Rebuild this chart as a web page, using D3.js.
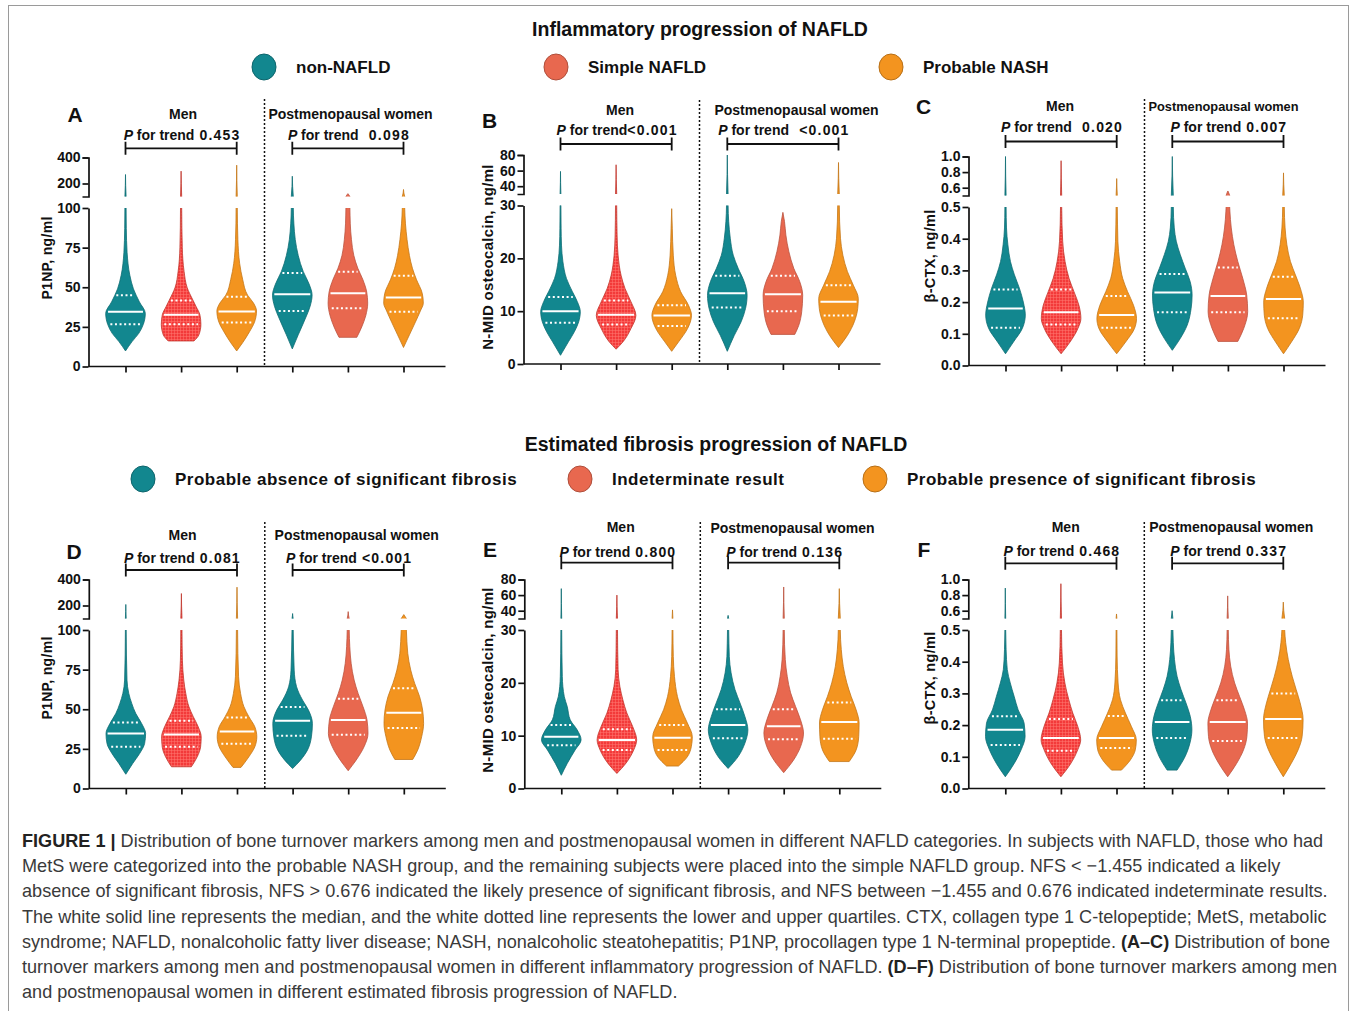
<!DOCTYPE html>
<html>
<head>
<meta charset="utf-8">
<title>Figure 1</title>
<script src="https://cdn.jsdelivr.net/npm/d3@7/dist/d3.min.js"></script>
<style>
	body{margin:0;background:#ffffff;}
	#fig1 text{font-family:"Liberation Sans",Arial,Helvetica,sans-serif;fill:#111111;}
</style>
</head>
<body>
<svg id="fig1" width="1357" height="1011"></svg>
<script>
//values
var groups = ["Men", "Postmenopausal women"];
var inflamCats = ["non-NAFLD", "Simple NAFLD", "Probable NASH"];
var fibroCats = ["Probable absence of significant fibrosis", "Indeterminate result", "Probable presence of significant fibrosis"];
var sectionTitles = ["Inflammatory progression of NAFLD", "Estimated fibrosis progression of NAFLD"];
var panelIds = ["A", "B", "C", "D", "E", "F"];
var yTitles = ["P1NP, ng/ml", "N-MID osteocalcin, ng/ml", "\u03b2-CTX, ng/ml", "P1NP, ng/ml", "N-MID osteocalcin, ng/ml", "\u03b2-CTX, ng/ml"];
var panelMarker = ["p1np", "nmid", "ctx", "p1np", "nmid", "ctx"];

//broken y axis: ticks below and above the break (last lower tick is the break)
var lowerTicks = {p1np: [0, 25, 50, 75, 100], nmid: [0, 10, 20, 30], ctx: [0, 0.1, 0.2, 0.3, 0.4, 0.5]};
var upperTicks = {p1np: [200, 400], nmid: [40, 60, 80], ctx: [0.6, 0.8, 1.0]};

//p for trend, [men, women]
var trendP = [[" 0.453", "  0.098"], ["<0.001", "  <0.001"], ["  0.020", " 0.007"],
	[" 0.081", " <0.001"], [" 0.800", " 0.136"], [" 0.468", " 0.337"]];

//[Q1, median, Q3] per violin: men cat1..3, women cat1..3
var quartA = [[26.6, 34.5, 45], [26.6, 32.6, 41.6], [27.8, 34.7, 44], [35, 45.6, 59], [36.8, 46.2, 59.8], [34.5, 43.5, 57.3]];
var quartB = [[7.8, 10.0, 12.7], [7.5, 9.3, 12.0], [7.2, 9.2, 11.1], [10.7, 13.4, 16.7], [10.0, 13.2, 16.7], [9.2, 11.8, 14.9]];
var quartC = [[0.119, 0.18, 0.24], [0.129, 0.168, 0.24], [0.119, 0.159, 0.219], [0.168, 0.23, 0.289], [0.168, 0.219, 0.309], [0.149, 0.21, 0.28]];
var quartD = [[26.3, 34.7, 41.7], [26.3, 34.1, 42.7], [28.2, 36, 44.8], [33.3, 42.7, 51.4], [33.9, 43.2, 56.6], [38.1, 47.8, 63.2]];
var quartE = [[8.2, 9.8, 12.0], [7.3, 9.2, 11.2], [7.3, 9.6, 12.0], [9.5, 12.0, 15.0], [9.3, 11.8, 15.0], [9.4, 12.6, 16.3]];
var quartF = [[0.137, 0.185, 0.228], [0.119, 0.159, 0.219], [0.128, 0.159, 0.229], [0.159, 0.21, 0.278], [0.15, 0.21, 0.278], [0.159, 0.219, 0.30]];

//violin outlines: [value, relative half width], bottom to top
var shapeA = [
	[[9.8,0],[15.7,0.33],[20.9,0.67],[26.6,0.9],[33.5,1],[40.8,0.7],[49,0.4],[57.5,0.22],[72,0.08],[87,0.04],[100,0.03],[269,0]],
	[[16.1,0.65],[20,0.9],[26.6,1],[32.6,0.95],[38,0.75],[41.8,0.6],[50,0.3],[60,0.15],[75,0.06],[100,0.03],[295,0]],
	[[9.8,0],[15,0.3],[22,0.65],[28,0.9],[35,1],[40,0.85],[45,0.55],[55,0.3],[65,0.15],[80,0.06],[100,0.03],[341,0]],
	[[11.1,0],[20,0.3],[30,0.65],[38,0.9],[45,1],[52,0.85],[60,0.55],[70,0.3],[80,0.15],[90,0.08],[100,0.05],[256,0]],
	[[18.4,0.45],[25,0.7],[32,0.9],[40,1],[47,0.95],[55,0.75],[62,0.5],[70,0.3],[80,0.18],[90,0.12],[100,0.1],[122,0]],
	[[12,0],[20,0.3],[28,0.6],[35,0.85],[40,1],[46,0.95],[55,0.65],[62,0.45],[70,0.3],[80,0.18],[90,0.1],[100,0.06],[154,0]]
];
var shapeB = [
	[[1.65,0],[4.2,0.4],[6.1,0.7],[8,0.92],[9.9,1],[11.8,0.85],[13.7,0.6],[16.2,0.3],[19.4,0.12],[22.5,0.05],[25.7,0.03],[30,0.02],[59,0]],
	[[2.8,0],[4.2,0.35],[6.7,0.75],[9.2,1],[11.8,0.75],[14.3,0.45],[16.8,0.25],[20.6,0.1],[24.4,0.05],[30,0.03],[67.5,0]],
	[[2.4,0],[4.2,0.35],[6.7,0.8],[9.2,1],[11.1,0.85],[13.7,0.45],[16.8,0.2],[20.6,0.08],[25.7,0.03],[29.4,0]],
	[[2.4,0],[5.4,0.35],[8,0.7],[10.5,0.92],[13,1],[15.6,0.85],[18.1,0.55],[20.6,0.3],[23.8,0.15],[27,0.07],[30,0.04],[80,0]],
	[[5.6,0.6],[7.3,0.8],[9.9,0.95],[13,1],[15.6,0.85],[18.1,0.55],[21.3,0.3],[24.4,0.15],[27,0.08],[28.7,0]],
	[[3.1,0],[5.4,0.45],[8,0.8],[10.5,0.97],[12.4,1],[14.9,0.75],[17.5,0.45],[20.6,0.22],[23.8,0.1],[30,0.04],[70.4,0]]
];
var shapeC = [
	[[0.037,0],[0.074,0.4],[0.117,0.85],[0.159,1],[0.2,0.9],[0.244,0.7],[0.286,0.45],[0.328,0.25],[0.381,0.12],[0.434,0.05],[0.5,0.03],[1.0,0]],
	[[0.037,0],[0.074,0.45],[0.117,0.85],[0.148,1],[0.19,0.9],[0.233,0.65],[0.275,0.4],[0.328,0.2],[0.392,0.08],[0.5,0.03],[0.946,0]],
	[[0.037,0],[0.074,0.45],[0.117,0.9],[0.148,1],[0.19,0.85],[0.233,0.55],[0.275,0.3],[0.328,0.15],[0.392,0.06],[0.5,0.03],[0.717,0]],
	[[0.048,0],[0.085,0.4],[0.127,0.75],[0.18,0.95],[0.222,1],[0.265,0.9],[0.307,0.65],[0.35,0.4],[0.392,0.2],[0.434,0.1],[0.5,0.05],[1.0,0]],
	[[0.076,0.5],[0.117,0.8],[0.17,1],[0.222,0.95],[0.275,0.75],[0.328,0.5],[0.381,0.3],[0.434,0.17],[0.487,0.1],[0.5,0.09],[0.558,0]],
	[[0.037,0],[0.074,0.4],[0.117,0.8],[0.159,0.97],[0.2,1],[0.244,0.85],[0.286,0.6],[0.328,0.35],[0.381,0.17],[0.434,0.08],[0.5,0.04],[0.79,0]]
];
var shapeD = [
	[[9,0],[15.8,0.35],[22.1,0.7],[28.4,0.95],[34.7,1],[41,0.8],[47.4,0.5],[53.7,0.3],[60,0.15],[68.4,0.06],[100,0.02],[208,0]],
	[[13.7,0.5],[20,0.8],[26.3,0.97],[32.6,1],[38.9,0.85],[45.3,0.6],[51.6,0.38],[60,0.22],[68.4,0.12],[81,0.05],[100,0.03],[292,0]],
	[[13.3,0.2],[20,0.6],[26.3,0.9],[32.6,1],[38.9,0.9],[45.3,0.6],[51.6,0.35],[60,0.18],[70.5,0.08],[100,0.03],[341,0]],
	[[12.6,0],[17.9,0.4],[24.2,0.75],[32.6,0.95],[41,1],[49.5,0.8],[55.8,0.5],[64.2,0.2],[74.7,0.08],[100,0.03],[138,0]],
	[[11.2,0],[17.9,0.4],[26.3,0.8],[34.7,1],[43.2,0.95],[51.6,0.75],[60,0.5],[68.4,0.3],[78.9,0.15],[89.5,0.08],[100,0.05],[153,0]],
	[[18.3,0.45],[24.2,0.7],[32.6,0.9],[41,1],[49.5,0.95],[57.9,0.8],[66.3,0.55],[74.7,0.35],[85.3,0.2],[100,0.13],[130,0]]
];
var shapeE = [
	[[2.5,0],[4.75,0.3],[7.3,0.7],[9.2,1],[11.1,0.8],[13,0.45],[15.5,0.3],[17.4,0.15],[21.2,0.05],[30,0.02],[68.3,0]],
	[[2.85,0],[4.75,0.45],[7.3,0.85],[9.2,1],[11.7,0.8],[14.3,0.5],[16.8,0.3],[19.3,0.15],[22.5,0.06],[30,0.03],[60,0]],
	[[4.25,0.3],[6,0.75],[7.9,0.95],[9.8,1],[12.4,0.75],[14.9,0.45],[17.4,0.25],[21.2,0.1],[25,0.04],[30,0.02],[41,0]],
	[[3.8,0],[6,0.5],[8.6,0.85],[11.1,1],[13.6,0.85],[16.2,0.6],[18.7,0.35],[21.9,0.15],[25,0.06],[30,0.03],[34,0]],
	[[3.0,0],[5.4,0.5],[7.9,0.85],[10.5,1],[13,0.85],[15.5,0.6],[18.1,0.35],[21.2,0.18],[24.4,0.08],[30,0.03],[70.4,0]],
	[[5.1,0.5],[7.3,0.85],[9.8,0.98],[12.4,1],[14.9,0.85],[17.4,0.6],[20,0.38],[23.1,0.2],[26.3,0.1],[30,0.05],[68.3,0]]
];
var shapeF = [
	[[0.037,0],[0.079,0.45],[0.122,0.8],[0.164,1],[0.206,0.95],[0.248,0.65],[0.29,0.45],[0.333,0.25],[0.375,0.1],[0.439,0.04],[0.5,0.02],[0.89,0]],
	[[0.037,0],[0.079,0.5],[0.122,0.85],[0.153,1],[0.196,0.85],[0.238,0.6],[0.28,0.4],[0.333,0.2],[0.396,0.08],[0.5,0.03],[0.946,0]],
	[[0.058,0.25],[0.09,0.7],[0.122,0.95],[0.153,1],[0.196,0.75],[0.238,0.45],[0.28,0.2],[0.333,0.08],[0.418,0.03],[0.5,0.02],[0.558,0]],
	[[0.058,0.25],[0.1,0.65],[0.143,0.9],[0.185,1],[0.227,0.92],[0.27,0.7],[0.312,0.45],[0.354,0.25],[0.407,0.12],[0.46,0.06],[0.5,0.04],[0.6,0]],
	[[0.037,0],[0.079,0.45],[0.122,0.8],[0.164,0.97],[0.206,1],[0.248,0.85],[0.29,0.6],[0.333,0.35],[0.386,0.15],[0.439,0.06],[0.5,0.03],[0.79,0]],
	[[0.037,0],[0.079,0.4],[0.122,0.75],[0.164,0.95],[0.217,1],[0.27,0.85],[0.312,0.65],[0.354,0.45],[0.407,0.25],[0.46,0.12],[0.5,0.07],[0.71,0]]
];

var captionLines = [
	[["FIGURE 1 | ", true], ["Distribution of bone turnover markers among men and postmenopausal women in different NAFLD categories. In subjects with NAFLD, those who had", false]],
	[["MetS were categorized into the probable NASH group, and the remaining subjects were placed into the simple NAFLD group. NFS < \u22121.455 indicated a likely", false]],
	[["absence of significant fibrosis, NFS > 0.676 indicated the likely presence of significant fibrosis, and NFS between \u22121.455 and 0.676 indicated indeterminate results.", false]],
	[["The white solid line represents the median, and the white dotted line represents the lower and upper quartiles. CTX, collagen type 1 C-telopeptide; MetS, metabolic", false]],
	[["syndrome; NAFLD, nonalcoholic fatty liver disease; NASH, nonalcoholic steatohepatitis; P1NP, procollagen type 1 N-terminal propeptide. ", false], ["(A\u2013C)", true], [" Distribution of bone", false]],
	[["turnover markers among men and postmenopausal women in different inflammatory progression of NAFLD. ", false], ["(D\u2013F)", true], [" Distribution of bone turnover markers among men", false]],
	[["and postmenopausal women in different estimated fibrosis progression of NAFLD.", false]]
];

//global namespace for the figure
fig1 = {};

(function(){

	var scope = fig1;
	var dom = scope.dom = {};

	dom.svg = d3.select("#fig1");
	dom.defs = dom.svg.append("defs");

	var catFill = ["#12878f", "#e8684f", "#f3941f"];
	var panelShapes = [shapeA, shapeB, shapeC, shapeD, shapeE, shapeF];
	var panelQuarts = [quartA, quartB, quartC, quartD, quartE, quartF];

	//panel placement (pixels)
	var seg = {lowH: 158.5, upBot: 170, upTop: 209, axisLen: 357, first: 37, step: 55.6, halfW: 19.8};
	var layout = [
		{x0: 88.5, y0: 366.5, letter: [75, 115], ylab: [47, 258], ylabSize: 14, men: [183, 114], women: [350.5, 114], pwSize: 14, pY: 135, brY: 148.3, divTop: 99},
		{x0: 523.5, y0: 364, letter: [489.5, 121], ylab: [488, 257], ylabSize: 15, men: [620, 110], women: [796.5, 110], pwSize: 14, pY: 130.5, brY: 144, divTop: 100},
		{x0: 968.5, y0: 365.5, letter: [923.5, 107], ylab: [930, 256], ylabSize: 14.5, men: [1060, 106.5], women: [1223.5, 106.5], pwSize: 12.8, pY: 127.5, brY: 141.5, divTop: 99},
		{x0: 88.8, y0: 788.5, letter: [74, 551.5], ylab: [47, 678], ylabSize: 14, men: [182.5, 535.5], women: [356.7, 535.5], pwSize: 14, pY: 558.3, brY: 570, divTop: 522},
		{x0: 524.3, y0: 788.5, letter: [490, 550], ylab: [488, 680], ylabSize: 15, men: [620.7, 526.7], women: [792.5, 528.3], pwSize: 14, pY: 551.7, brY: 562.7, divTop: 522},
		{x0: 968.3, y0: 788.5, letter: [924, 550], ylab: [930, 678], ylabSize: 14.5, men: [1065.7, 526.7], women: [1231.3, 526.7], pwSize: 14, pY: 550.7, brY: 563.3, divTop: 522}
	];

	//fine grid fill used for the men's middle category
	var pat = dom.defs.append("pattern").attr("id", "redgrid")
		.attr("width", 3).attr("height", 3).attr("patternUnits", "userSpaceOnUse");
	pat.append("rect").attr("width", 3).attr("height", 3).attr("fill", "#f33a3a");
	pat.append("path").attr("d", "M0,0.5H3M0.5,0V3").attr("stroke", "#ff7a72").attr("stroke-width", 0.5);

	//outer frame
	dom.svg.append("rect").attr("x", 8.5).attr("y", 5.5).attr("width", 1340).attr("height", 1012)
		.attr("fill", "none").attr("stroke", "#9a9a9a").attr("stroke-width", 1);

	//half width of a violin at value v (linear between outline points)
	function widthAt(knots, v){
		for(var i=1; i<knots.length; i++){
			if(v <= knots[i][0]){
				var a = knots[i-1], b = knots[i];
				return a[1] + (b[1]-a[1])*(v-a[0])/(b[0]-a[0]);
			}
		}
		return 0;
	}

	function drawPanel(p){
		var L = layout[p];
		var m = panelMarker[p];
		var lo = lowerTicks[m], up = upperTicks[m];
		var brk = lo[lo.length-1];
		var fmt = m==="ctx" ? d3.format(".1f") : d3.format("d");
		var g = dom.svg.append("g").attr("class", "panel");

		var yLow = d3.scaleLinear().domain([0, brk]).range([L.y0, L.y0 - seg.lowH]);
		var yUp = d3.scaleLinear().domain([brk, up[up.length-1]]).range([L.y0 - seg.upBot, L.y0 - seg.upTop]);
		var x = d3.scalePoint().domain(d3.range(6)).range([L.x0 + seg.first, L.x0 + seg.first + 5*seg.step]);
		var w = d3.scaleLinear().domain([0, 1]).range([0, seg.halfW]);

		//one clip per axis segment
		dom.defs.append("clipPath").attr("id", "clipL"+p).append("rect")
			.attr("x", L.x0 + 1).attr("y", yLow.range()[1]).attr("width", seg.axisLen).attr("height", seg.lowH);
		dom.defs.append("clipPath").attr("id", "clipU"+p).append("rect")
			.attr("x", L.x0 + 1).attr("y", yUp.range()[1] - 3).attr("width", seg.axisLen).attr("height", yUp.range()[0] - yUp.range()[1] + 3);

		var shapes = panelShapes[p], quarts = panelQuarts[p];

		[[yLow, "clipL"+p], [yUp, "clipU"+p]].forEach(function(pair){
			var ys = pair[0];
			var sg = g.append("g").attr("clip-path", "url(#" + pair[1] + ")");
			shapes.forEach(function(knots, i){
				var cat = i % 3;
				var base = catFill[cat];
				var fill = (i===1) ? "url(#redgrid)" : base;
				var edge = (i===1) ? "#c0392f" : d3.color(base).darker(0.6).formatHex();
				var area = d3.area().curve(d3.curveMonotoneY)
					.y(function(d){return ys(d[0]);})
					.x0(function(d){return x(i) - w(d[1]);})
					.x1(function(d){return x(i) + w(d[1]);});
				sg.append("path").datum(knots)
					.attr("d", area)
					.attr("fill", fill)
					.attr("stroke", edge)
					.attr("stroke-width", 0.8)
					.attr("stroke-linejoin", "round");
			});
		});

		//median and quartile lines
		var lg = g.append("g");
		quarts.forEach(function(q, i){
			q.forEach(function(v, k){
				var hw = w(widthAt(shapes[i], v)) * (k===1 ? 0.92 : 0.85);
				lg.append("line")
					.attr("x1", x(i) - hw).attr("x2", x(i) + hw)
					.attr("y1", yLow(v)).attr("y2", yLow(v))
					.attr("stroke", "#ffffff")
					.attr("stroke-width", 2)
					.attr("stroke-dasharray", k===1 ? null : "2,2.6");
			});
		});

		//axes
		function styleAxis(sel){
			sel.selectAll(".domain, .tick line").attr("stroke", "#111111").attr("stroke-width", 1.7);
			sel.selectAll(".tick text").attr("font-size", 14).attr("font-weight", "bold").attr("fill", "#111111")
				.style("font-family", "'Liberation Sans', Arial, sans-serif");
		}
		g.append("g").attr("transform", "translate(" + L.x0 + ",0)")
			.call(d3.axisLeft(yLow).tickValues(lo).tickSize(6).tickPadding(2).tickSizeOuter(0).tickFormat(fmt))
			.call(styleAxis);
		g.append("g").attr("transform", "translate(" + L.x0 + ",0)")
			.call(d3.axisLeft(yUp).tickValues(up).tickSize(6).tickPadding(2).tickSizeOuter(6).tickFormat(fmt))
			.call(styleAxis);
		var xa = g.append("g").attr("transform", "translate(0," + L.y0 + ")")
			.call(d3.axisBottom(x).tickSize(6).tickSizeOuter(0).tickFormat(""))
			.call(styleAxis);
		xa.select(".domain").attr("d", "M" + L.x0 + ",0H" + (L.x0 + seg.axisLen));

		//divider between sexes
		var xd = (x(2) + x(3)) / 2;
		g.append("line").attr("x1", xd).attr("x2", xd).attr("y1", L.divTop).attr("y2", L.y0)
			.attr("stroke", "#111111").attr("stroke-width", 1.5).attr("stroke-dasharray", "2,2");

		//group labels, brackets and trend tests
		[0, 1].forEach(function(s){
			var pos = s===0 ? L.men : L.women;
			g.append("text").attr("x", pos[0]).attr("y", pos[1]).attr("dy", "0.35em")
				.attr("text-anchor", "middle").attr("font-weight", "bold")
				.attr("font-size", s===0 ? 14 : L.pwSize)
				.text(groups[s]);

			var xa0 = x(s*3), xa1 = x(s*3 + 2), cy = L.brY;
			g.append("path")
				.attr("d", "M" + xa0 + "," + (cy-6.5) + "V" + (cy+6.5) + "M" + xa0 + "," + cy + "H" + xa1 + "M" + xa1 + "," + (cy-6.5) + "V" + (cy+6.5))
				.attr("fill", "none").attr("stroke", "#111111").attr("stroke-width", 1.8);

			var t = g.append("text").attr("x", (xa0 + xa1)/2 + 1).attr("y", L.pY).attr("dy", "0.35em")
				.attr("text-anchor", "middle").attr("font-weight", "bold").attr("font-size", 14)
				.style("white-space", "pre");
			t.append("tspan").attr("font-style", "italic").text("P");
			t.append("tspan").text(" for trend");
			t.append("tspan").attr("letter-spacing", 1.2).text(trendP[p][s]);
		});

		//panel letter and y title
		g.append("text").attr("x", L.letter[0]).attr("y", L.letter[1]).attr("dy", "0.35em")
			.attr("text-anchor", "middle").attr("font-weight", "bold").attr("font-size", 21)
			.text(panelIds[p]);
		g.append("text")
			.attr("transform", "translate(" + L.ylab[0] + "," + L.ylab[1] + ") rotate(-90)")
			.attr("dy", "0.35em").attr("text-anchor", "middle").attr("font-weight", "bold")
			.attr("font-size", L.ylabSize).attr("letter-spacing", 0.3)
			.text(yTitles[p]);
	}

	d3.range(6).forEach(drawPanel);

	//section titles and legends
	function drawLegend(cats, cy, xs, fs, ls){
		var lg = dom.svg.append("g");
		cats.forEach(function(c, i){
			lg.append("ellipse").attr("cx", xs[i]).attr("cy", cy).attr("rx", 12).attr("ry", 13)
				.attr("fill", catFill[i]).attr("stroke", d3.color(catFill[i]).darker(0.8).formatHex()).attr("stroke-width", 1);
			lg.append("text").attr("x", xs[i] + 32).attr("y", cy).attr("dy", "0.35em")
				.attr("font-weight", "bold").attr("font-size", fs).attr("letter-spacing", ls)
				.text(c);
		});
	}
	dom.svg.append("text").attr("x", 700).attr("y", 29).attr("dy", "0.35em").attr("text-anchor", "middle")
		.attr("font-weight", "bold").attr("font-size", 19.5).text(sectionTitles[0]);
	drawLegend(inflamCats, 67, [264, 556, 891], 17, 0);
	dom.svg.append("text").attr("x", 716).attr("y", 444).attr("dy", "0.35em").attr("text-anchor", "middle")
		.attr("font-weight", "bold").attr("font-size", 19.5).text(sectionTitles[1]);
	drawLegend(fibroCats, 479, [143, 580, 875], 17, 0.5);

	//caption
	var cap = dom.svg.append("g");
	captionLines.forEach(function(line, i){
		var t = cap.append("text").attr("x", 22).attr("y", 847 + i*25.2)
			.attr("font-size", 18.1).style("fill", "#3a3a3a").style("white-space", "pre");
		line.forEach(function(seg){
			t.append("tspan").attr("font-weight", seg[1] ? "bold" : "normal")
				.style("fill", seg[1] ? "#222222" : "#3a3a3a").text(seg[0]);
		});
	});

})(); //end of closure
</script>
</body>
</html>
